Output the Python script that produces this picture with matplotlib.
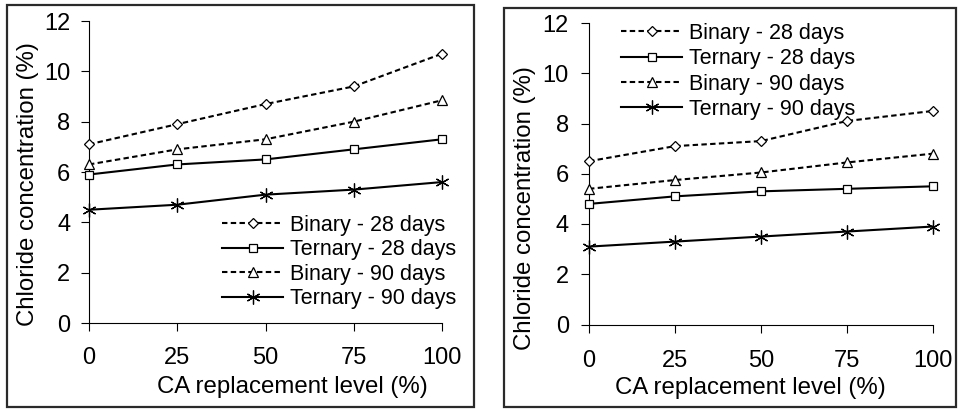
import matplotlib
matplotlib.use("Agg")
import matplotlib.pyplot as plt
from matplotlib.patches import Rectangle

plt.rcParams['font.family'] = ['Liberation Sans', 'DejaVu Sans']

# ---------------- data ----------------
levels = [0, 25, 50, 75, 100]
series_names = ["Binary - 28 days", "Ternary - 28 days", "Binary - 90 days", "Ternary - 90 days"]

left_binary_28 = [7.1, 7.9, 8.7, 9.4, 10.7]
left_ternary_28 = [5.9, 6.3, 6.5, 6.9, 7.3]
left_binary_90 = [6.3, 6.9, 7.3, 8.0, 8.85]
left_ternary_90 = [4.5, 4.7, 5.1, 5.3, 5.6]

right_binary_28 = [6.5, 7.1, 7.3, 8.1, 8.5]
right_ternary_28 = [4.8, 5.1, 5.3, 5.4, 5.5]
right_binary_90 = [5.4, 5.75, 6.05, 6.45, 6.8]
right_ternary_90 = [3.1, 3.3, 3.5, 3.7, 3.9]

y_ticks = [0, 2, 4, 6, 8, 10, 12]
x_ticks = [0, 25, 50, 75, 100]
x_label = "CA replacement level (%)"
y_label = "Chloride concentration (%)"

# ---------------- figure ----------------
W, H = 958, 409
fig = plt.figure(figsize=(W / 100, H / 100), dpi=100)


def fx(px):
    return px / W


def fy(py):
    return 1 - py / H


styles = [
    dict(ls=(0, (2.6, 1.6)), marker='D', ms=5.5),
    dict(ls='-', marker='s', ms=5.5),
    dict(ls=(0, (2.6, 1.6)), marker='^', ms=7),
    dict(ls='-', marker=(6, 2, 0), ms=10),
]


def make_panel(rect_px, data, legend_px, ylabel_px, xlabel_px, border_px, xpad, ypad, lspace):
    x0, x1, yb, yt = rect_px
    ax = fig.add_axes([fx(x0), fy(yb), fx(x1 - x0), (yb - yt) / H])
    for vals, name, st in zip(data, series_names, styles):
        ax.plot(levels, vals, color='black', lw=1.5, linestyle=st['ls'],
                marker=st['marker'], ms=st['ms'], mfc='white', mec='black',
                mew=0.9, label=name, clip_on=False, zorder=3)
    ax.set_xlim(0, 100)
    ax.set_ylim(0, 12)
    ax.set_xticks(x_ticks)
    ax.set_yticks(y_ticks)
    for s in ['top', 'right']:
        ax.spines[s].set_visible(False)
    for s in ['left', 'bottom']:
        ax.spines[s].set_linewidth(0.8)
        ax.spines[s].set_color('black')
    ax.tick_params(axis='y', direction='out', length=6, width=0.8, pad=ypad,
                   labelsize=17)
    ax.tick_params(axis='x', direction='out', length=5.5, width=0.8, pad=xpad,
                   labelsize=17)
    ax.set_xlabel(x_label, fontsize=17.3, ha='center', va='center')
    ax.xaxis.set_label_coords(fx(xlabel_px[0]), fy(xlabel_px[1]),
                              transform=fig.transFigure)
    ax.set_ylabel(y_label, fontsize=17.3, ha='center', va='center')
    ax.yaxis.set_label_coords(fx(ylabel_px[0]), fy(ylabel_px[1]),
                              transform=fig.transFigure)
    ax.legend(loc='upper left', bbox_to_anchor=(fx(legend_px[0]), fy(legend_px[1])),
              bbox_transform=fig.transFigure, frameon=False, fontsize=15.5,
              handlelength=2.85, handletextpad=0.3, labelspacing=lspace,
              borderpad=0, borderaxespad=0)
    bx0, bx1, by0, by1 = border_px
    fig.patches.append(Rectangle((fx(bx0), fy(by1)), fx(bx1 - bx0), (by1 - by0) / H,
                                 transform=fig.transFigure, fill=False,
                                 edgecolor='#2a2a2a', lw=1.6, zorder=0))
    return ax


make_panel((89, 442, 323, 21),
           [left_binary_28, left_ternary_28, left_binary_90, left_ternary_90],
           legend_px=(222, 215), ylabel_px=(28, 184), xlabel_px=(292, 387),
           border_px=(7, 474, 5, 407), xpad=12, ypad=7.5, lspace=0.16)

make_panel((589, 933, 324.5, 23),
           [right_binary_28, right_ternary_28, right_binary_90, right_ternary_90],
           legend_px=(621, 23), ylabel_px=(525, 208), xlabel_px=(750, 388),
           border_px=(504, 956, 8, 407), xpad=13, ypad=8.5, lspace=0.2)

fig.savefig("out.png", dpi=100)
